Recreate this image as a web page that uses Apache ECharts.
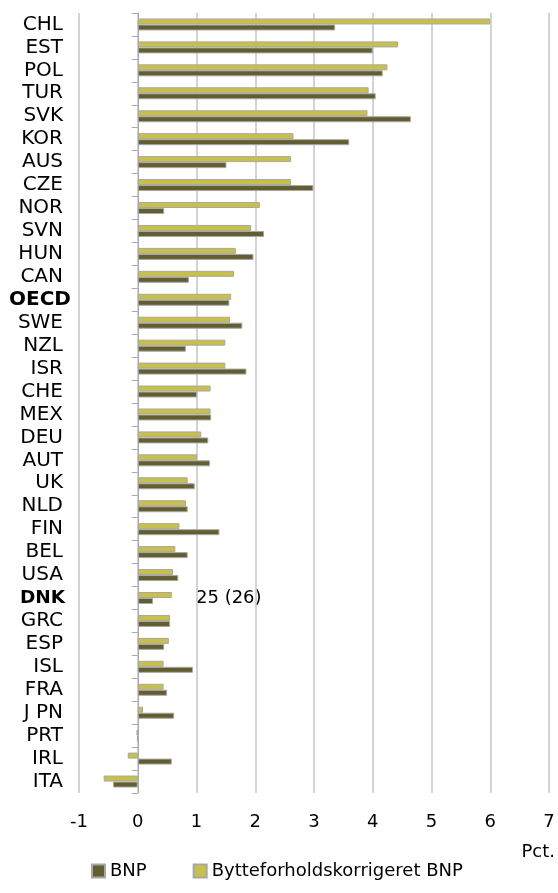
<!DOCTYPE html>
<html><head><meta charset="utf-8">
<script src="https://cdn.jsdelivr.net/npm/echarts@6/dist/echarts.min.js"></script>
<style>html,body{margin:0;padding:0;background:#fff}#c{width:558px;height:893px}</style>
</head><body><div id="c"></div>
<script>
const categories = ['CHL','EST','POL','TUR','SVK','KOR','AUS','CZE','NOR','SVN','HUN','CAN','OECD','SWE','NZL','ISR','CHE','MEX','DEU','AUT','UK','NLD','FIN','BEL','USA','DNK','GRC','ESP','ISL','FRA','J PN','PRT','IRL','ITA'];
const bnp = [3.36,4.00,4.17,4.05,4.65,3.60,1.51,2.99,0.45,2.15,1.97,0.87,1.56,1.78,0.82,1.85,1.01,1.25,1.20,1.23,0.97,0.85,1.39,0.85,0.69,0.26,0.55,0.45,0.94,0.50,0.62,-0.01,0.58,-0.42];
const bfk = [6.00,4.43,4.25,3.93,3.91,2.65,2.61,2.61,2.08,1.93,1.67,1.64,1.59,1.57,1.49,1.49,1.24,1.24,1.08,1.01,0.85,0.82,0.71,0.64,0.60,0.58,0.55,0.53,0.44,0.44,0.09,-0.02,-0.17,-0.58];
const boldCats = {'OECD':'o','DNK':'d'};
const xTicks = {min:-1, max:7, interval:1};
const seriesNames = ['BNP','Bytteforholdskorrigeret BNP'];
const annotation = '25 (26)';
const unitLabel = 'Pct.';

const FONT = 'DejaVu Sans';
const chart = echarts.init(document.getElementById('c'));
chart.setOption({
  animation:false,
  textStyle:{fontFamily:FONT},
  grid:{left:79, right:9, top:13, bottom:100, containLabel:false},
  legend:{
    data:seriesNames, bottom:8, left:86, itemWidth:13, itemHeight:13, itemGap:46,
    icon:'rect', textStyle:{fontFamily:FONT, fontSize:18, color:'#000'}
  },
  xAxis:{
    type:'value', min:xTicks.min, max:xTicks.max, interval:xTicks.interval,
    axisLine:{show:false}, axisTick:{show:false},
    axisLabel:{fontFamily:FONT, fontSize:18, color:'#000', margin:20},
    splitLine:{show:true, lineStyle:{color:'#c4c4c4', width:1.5}}
  },
  yAxis:[{
    type:'category', data:categories, inverse:true,
    axisLine:{show:false, onZero:false}, axisTick:{show:false},
    axisLabel:{interval:0, margin:16, fontFamily:FONT, fontSize:20, color:'#000',
      formatter:function(v){return boldCats[v]?'{'+boldCats[v]+'|'+v+'}':v;},
      rich:{
        o:{fontWeight:'bold', fontFamily:FONT, fontSize:20, color:'#000', width:54, align:'left'},
        d:{fontWeight:'bold', fontFamily:FONT, fontSize:18.5, color:'#000', width:43, align:'left'}
      }}
  },{
    type:'category', data:categories, inverse:true, position:'left',
    axisLine:{show:true, onZero:true, lineStyle:{color:'#aaaaaa', width:1}},
    axisTick:{show:true, interval:0, length:6, lineStyle:{color:'#aaaaaa'}},
    axisLabel:{show:false}, splitLine:{show:false}
  }],
  series:[{
    name:seriesNames[1], type:'bar', data:bfk, yAxisIndex:0, barWidth:6, barGap:'0%',
    itemStyle:{color:'#c8c04b', borderColor:'#a8a8a0', borderWidth:1}
  },{
    name:seriesNames[0], type:'bar', data:bnp, yAxisIndex:0, barWidth:6, barGap:'0%',
    itemStyle:{color:'#625e31', borderColor:'#a8a8a0', borderWidth:1}
  }],
  graphic:[
    {type:'text', left:196, top:589, style:{text:annotation, fontFamily:FONT, fontSize:18, fill:'#000'}},
    {type:'text', right:3, top:843, style:{text:unitLabel, fontFamily:FONT, fontSize:18, fill:'#000'}}
  ]
});
</script></body></html>
